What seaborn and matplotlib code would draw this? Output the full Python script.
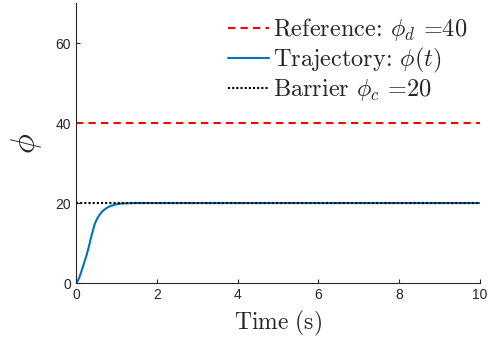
import matplotlib
matplotlib.use("Agg")
import matplotlib.pyplot as plt
import pandas as pd
import seaborn as sns

# trajectory
t = [0.0, 0.05, 0.1, 0.18, 0.25, 0.31, 0.39, 0.47, 0.53, 0.58, 0.65, 0.75, 0.85,
     1.0, 1.1, 1.25, 1.5, 2.0, 4.0, 6.0, 8.0, 10.0]
phi = [0.0, 0.6, 1.8, 4.3, 6.5, 8.7, 12.0, 14.9, 16.2, 17.0, 17.9, 18.7, 19.25,
       19.7, 19.85, 19.95, 20.0, 20.0, 20.0, 20.0, 20.0, 20.0]
t_span = [0.0, 10.0]
phi_ref = [40.0, 40.0]
phi_bar = [20.0, 20.0]
xticks = [0, 2, 4, 6, 8, 10]
yticks = [0, 20, 40, 60]

sns.set_style("ticks")
plt.rcParams["font.family"] = ["Liberation Sans", "DejaVu Sans"]
plt.rcParams["mathtext.fontset"] = "cm"
plt.rcParams["xtick.direction"] = "in"
plt.rcParams["ytick.direction"] = "in"

df = pd.DataFrame({"t": t, "phi": phi})
ref = pd.DataFrame({"t": t_span, "phi": phi_ref})
bar = pd.DataFrame({"t": t_span, "phi": phi_bar})

fig, ax = plt.subplots(figsize=(4.93, 3.39), dpi=100)
fig.subplots_adjust(left=0.154, right=0.974, top=0.991, bottom=0.165)

sns.lineplot(x="t", y="phi", data=ref, ax=ax, color="#FF0000", linestyle=(0, (3.5, 2.5)),
             linewidth=1.5, label=r"Reference: $\phi_d$ =40")
sns.lineplot(x="t", y="phi", data=df, ax=ax, color="#0072BD", linewidth=1.5,
             label=r"Trajectory: $\phi(t)$")
sns.lineplot(x="t", y="phi", data=bar, ax=ax, color="black", linestyle=(0, (1, 1)),
             linewidth=1.5, label=r"Barrier $\phi_c$ =20")

ax.set_xlim(0, 10)
ax.set_ylim(0, 70)
ax.set_xticks(xticks)
ax.set_yticks(yticks)
ax.tick_params(labelsize=10, colors="#262626", length=3, width=0.8)
for s in ["left", "bottom"]:
    ax.spines[s].set_color("#262626")
    ax.spines[s].set_linewidth(0.8)
sns.despine(ax=ax)

ax.set_xlabel(r"$\mathrm{Time\ (s)}$", fontsize=17, labelpad=5)
ax.set_ylabel(r"$\phi$", fontsize=24, labelpad=8)

leg = ax.legend(loc="upper right", frameon=False, handlelength=1.7, handletextpad=0.15,
                labelspacing=0.1, borderaxespad=0.15,
                prop={"family": "cmr10", "size": 17.5})

fig.savefig("out.png", dpi=100)
